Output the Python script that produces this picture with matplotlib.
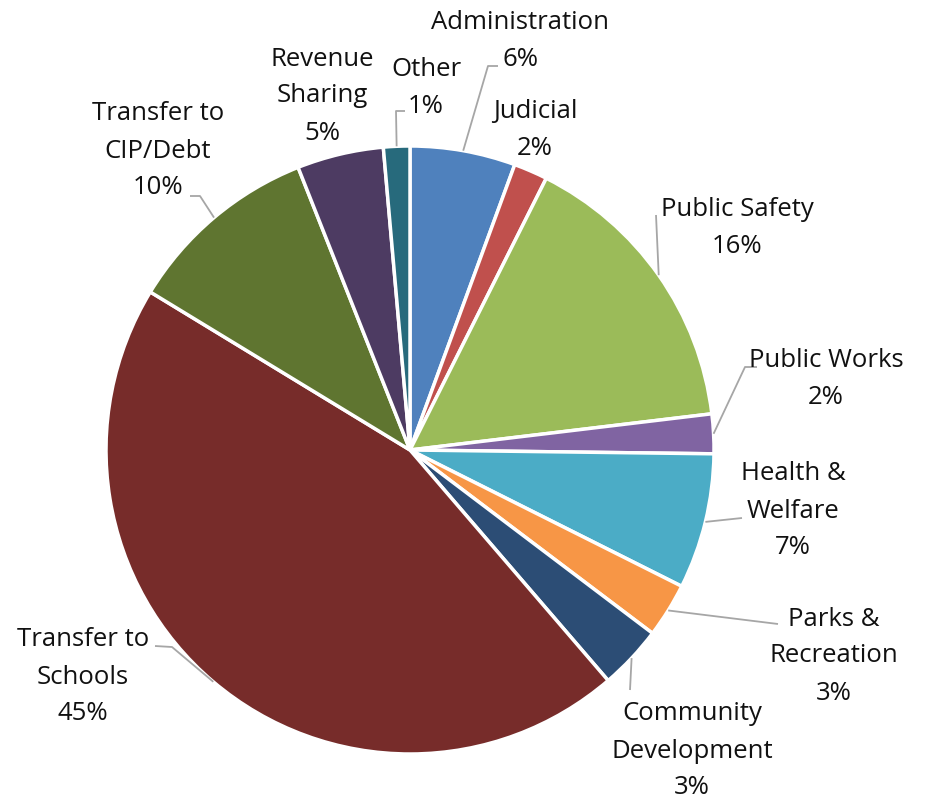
import matplotlib
matplotlib.use("Agg")
import matplotlib.pyplot as plt
import numpy as np

categories = ["Administration", "Judicial", "Public Safety", "Public Works",
              "Health &\nWelfare", "Parks &\nRecreation", "Community\nDevelopment",
              "Transfer to\nSchools", "Transfer to\nCIP/Debt", "Revenue\nSharing", "Other"]
values = [5.6, 1.8, 15.7, 2.1, 7.2, 2.9, 3.4, 45.0, 10.3, 4.6, 1.4]
pct_labels = ["6%", "2%", "16%", "2%", "7%", "3%", "3%", "45%", "10%", "5%", "1%"]
colors = ["#4F81BD", "#C0504D", "#9BBB59", "#8064A2", "#4BACC6", "#F79646",
          "#2C4D75", "#772C2A", "#5F7530", "#4D3B62", "#276A7C"]

# label layout in pixel coordinates (x from left, y from top)
text_pos = [(520, 38), (535, 127), (737, 225), (826, 376), (793, 508), (834, 653),
            (692, 748), (83, 674), (158, 148), (322, 93), (426, 85)]
# leader line waypoints after the anchor on the wedge edge (None = no leader)
leader_pts = [[(488, 66), (498, 66)], None, [(656, 215)], [(745, 367), (757, 367)],
              [(742, 518)], [(778, 624)], [(630, 690)], [(172, 647), (155, 646)],
              [(200, 196), (190, 196)], None, [(396, 111), (405, 111)]]

W, H = 938, 799
LINE_PITCH = 37
fig = plt.figure(figsize=(W / 100, H / 100), dpi=100)
ax = fig.add_axes([0, 0, 1, 1])
cx, cy, r = 410, H - 450, 304
wedges, _ = ax.pie(values, colors=colors, startangle=90, counterclock=False,
                   center=(cx, cy), radius=r,
                   wedgeprops=dict(edgecolor="white", linewidth=2.5))
ax.set_xlim(0, W)
ax.set_ylim(0, H)
ax.set_aspect("equal")
ax.axis("off")

font = "Open Sans"
for w, cat, pct, tp, lp in zip(wedges, categories, pct_labels, text_pos, leader_pts):
    lines = cat.split("\n") + [pct]
    n = len(lines)
    for i, line in enumerate(lines):
        y = tp[1] + (i - (n - 1) / 2) * LINE_PITCH
        ax.text(tp[0], H - y, line, ha="center", va="center_baseline",
                fontsize=18.5, family=font, color="#111111")
    if lp is not None:
        mid = np.deg2rad((w.theta1 + w.theta2) / 2)
        ax_ = cx + r * np.cos(mid)
        ay_ = cy + r * np.sin(mid)
        xs = [ax_] + [p[0] for p in lp]
        ys = [ay_] + [H - p[1] for p in lp]
        ax.plot(xs, ys, color="#a6a6a6", lw=1.3, solid_capstyle="butt")

fig.savefig("out.png", dpi=100, facecolor="white")
